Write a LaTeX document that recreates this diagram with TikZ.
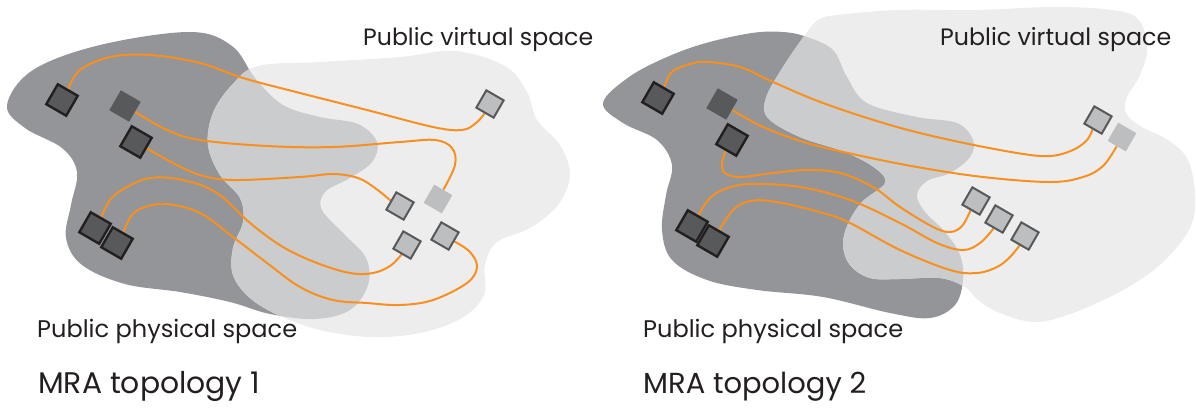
\documentclass[tikz,border=0pt]{standalone}
\usepackage{fontspec}
\setmainfont{Poppins}
\usepackage{graphicx}
\definecolor{dk}{HTML}{939598}
\definecolor{md}{HTML}{CBCCCE}
\definecolor{lt}{HTML}{EDEDEE}
\definecolor{sqd}{HTML}{58595B}
\definecolor{sqdb}{HTML}{231F20}
\definecolor{sql}{HTML}{BCBEC0}
\definecolor{sqlb}{HTML}{58595B}
\definecolor{org}{HTML}{F7901E}
\definecolor{txt}{HTML}{231F20}
\pgfdeclarelayer{bg}
\pgfsetlayers{bg,main}
\tikzset{
 dsq/.style={rectangle, draw=sqdb, fill=sqd, line width=2.4pt, minimum size=23pt, inner sep=0pt, rotate=-30},
 dsqn/.style={rectangle, fill=sqd, minimum size=23pt, inner sep=0pt, rotate=-30},
 lsq/.style={rectangle, draw=sqlb, fill=sql, line width=2pt, minimum size=20pt, inner sep=0pt, rotate=-30},
 lsqn/.style={rectangle, fill=sql, minimum size=21pt, inner sep=0pt, rotate=-30},
 link/.style={draw=org, line width=2pt},
 lbl/.style={anchor=base west, inner sep=0pt, text=txt},
}
\newcommand\blobDa{plot[smooth cycle, tension=0.6] coordinates {(7,105) (33,70) (100,45) (190,32) (232,46) (255,78) (283,105) (320,117) (358,124) (377,142) (372,162) (350,178) (325,192) (322,210) (345,235) (366,258) (368,285) (350,310) (315,319) (270,314) (230,302) (180,292) (125,284) (82,265) (66,238) (71,205) (77,172) (62,148) (25,128)}}
\newcommand\blobLa{plot[smooth cycle, tension=0.6] coordinates {(258,66) (320,62) (400,57) (455,51) (505,66) (527,92) (537,120) (560,145) (570,175) (558,205) (530,228) (497,242) (485,265) (484,295) (462,318) (420,333) (370,337) (320,330) (280,316) (250,298) (233,275) (233,248) (243,222) (240,198) (220,175) (208,145) (213,113) (232,85)}}
\newcommand\blobDb{plot[smooth cycle, tension=0.6] coordinates {(603,103) (629,77) (667,57) (706,43) (752,33) (783,32) (807,37) (833,50) (847,77) (867,103) (917,117) (957,123) (973,140) (970,157) (950,173) (927,181) (917,195) (925,212) (945,232) (960,255) (963,280) (955,305) (930,318) (890,313) (823,297) (757,290) (707,280) (672,260) (662,230) (666,195) (672,165) (657,140) (623,123)}}
\newcommand\blobLb{plot[smooth cycle, tension=0.6] coordinates {(837,15) (899,10) (977,10) (1054,7) (1112,10) (1139,20) (1147,50) (1139,77) (1127,97) (1126,113) (1140,126) (1168,140) (1188,160) (1195,195) (1190,228) (1162,263) (1123,290) (1073,313) (1035,322) (1000,313) (978,300) (965,287) (940,278) (900,279) (870,278) (850,265) (843,245) (848,224) (862,202) (885,183) (875,168) (845,152) (800,137) (768,118) (766,98) (783,67) (805,35) (818,20)}}
\begin{document}
\begin{tikzpicture}[x=1pt,y=-1pt]
\useasboundingbox (0,0) rectangle (1196,410);
% squares left
\node[dsq]  (a1) at (62,100) {};
\node[dsqn] (a2) at (125,106) {};
\node[dsq]  (a3) at (136,142) {};
\node[dsq]  (a4) at (95,228) {};
\node[dsq]  (a5) at (117,243) {};
\node[lsq]  (b1) at (490,104) {};
\node[lsq]  (b2) at (400,206) {};
\node[lsqn] (b3) at (438,199) {};
\node[lsq]  (b4) at (407,245) {};
\node[lsq]  (b5) at (445,236) {};
% squares right
\node[dsq]  (c1) at (658,98) {};
\node[dsqn] (c2) at (722,104) {};
\node[dsq]  (c3) at (732,140) {};
\node[dsq]  (c4) at (692,226) {};
\node[dsq]  (c5) at (713,241) {};
\node[lsq]  (d1) at (1098,120) {};
\node[lsqn] (d2) at (1122,137) {};
\node[lsq]  (e1) at (976,201) {};
\node[lsq]  (e2) at (999,219) {};
\node[lsq]  (e3) at (1025,236) {};
\begin{pgfonlayer}{bg}
\fill[dk] \blobDa;
\fill[lt] \blobLa;
\begin{scope}
\clip \blobDa;
\fill[md] \blobLa;
\end{scope}
\fill[dk] \blobDb;
\fill[lt] \blobLb;
\begin{scope}
\clip \blobDb;
\fill[md] \blobLb;
\end{scope}
% links left
\draw[link] plot[smooth, tension=0.6] coordinates {(a1.north) (80,70) (110,57) (150,55) (200,63) (243,78) (300,93) (367,110) (433,127) (462,130) (476,123) (b1.south)};
\draw[link] plot[smooth, tension=0.6] coordinates {(a2.east) (167,130) (200,140) (267,146) (333,147) (400,142) (435,140) (452,148) (455,165) (b3.north)};
\draw[link] plot[smooth, tension=0.6] coordinates {(a3.east) (173,163) (200,175) (233,180) (300,177) (333,174) (358,178) (375,188) (b2.west)};
\draw[link] plot[smooth, tension=0.6] coordinates {(a4.north) (110,200) (125,188) (150,178) (183,180) (217,193) (250,223) (283,247) (317,263) (350,273) (373,273) (390,266) (b4.south)};
\draw[link] plot[smooth, tension=0.6] coordinates {(a5.north) (132,215) (145,207) (167,204) (200,213) (233,237) (267,263) (300,287) (333,300) (367,303) (400,305) (433,300) (467,283) (477,267) (470,252) (b5.east)};
% links right
\draw[link] plot[smooth, tension=0.6] coordinates {(c1.north) (672,72) (690,64) (707,62) (740,67) (773,82) (823,103) (890,125) (950,140) (1017,153) (1050,156) (1073,150) (1087,140) (d1.south)};
\draw[link] plot[smooth, tension=0.6] coordinates {(c2.east) (763,127) (807,143) (857,155) (917,167) (983,177) (1050,182) (1083,177) (1103,166) (d2.south)};
\draw[link] plot[smooth, tension=0.6] coordinates {(c3.south) (722,163) (725,173) (740,177) (773,173) (807,170) (840,173) (873,187) (900,207) (933,227) (950,232) (962,226) (e1.south)};
\draw[link] plot[smooth, tension=0.6] coordinates {(c4.north) (710,198) (725,189) (750,184) (800,187) (850,200) (900,223) (937,243) (963,250) (980,243) (e2.south)};
\draw[link] plot[smooth, tension=0.6] coordinates {(c5.north) (733,210) (750,201) (777,202) (823,213) (850,223) (900,250) (950,270) (977,273) (997,267) (1010,257) (e3.south)};
\end{pgfonlayer}
% labels
\node[lbl] (pv1) at (363,45) {\resizebox{230pt}{!}{Public virtual space}};
\node[lbl] (pp1) at (37,337) {\resizebox{260pt}{!}{Public physical space}};
\node[lbl] (mra1) at (38,393) {\resizebox{222pt}{!}{MRA topology 1}};
\node[lbl] (pv2) at (940,45) {\resizebox{231pt}{!}{Public virtual space}};
\node[lbl] (pp2) at (643,337) {\resizebox{260pt}{!}{Public physical space}};
\node[lbl] (mra2) at (643,393) {\resizebox{223pt}{!}{MRA topology 2}};
\end{tikzpicture}
\end{document}
